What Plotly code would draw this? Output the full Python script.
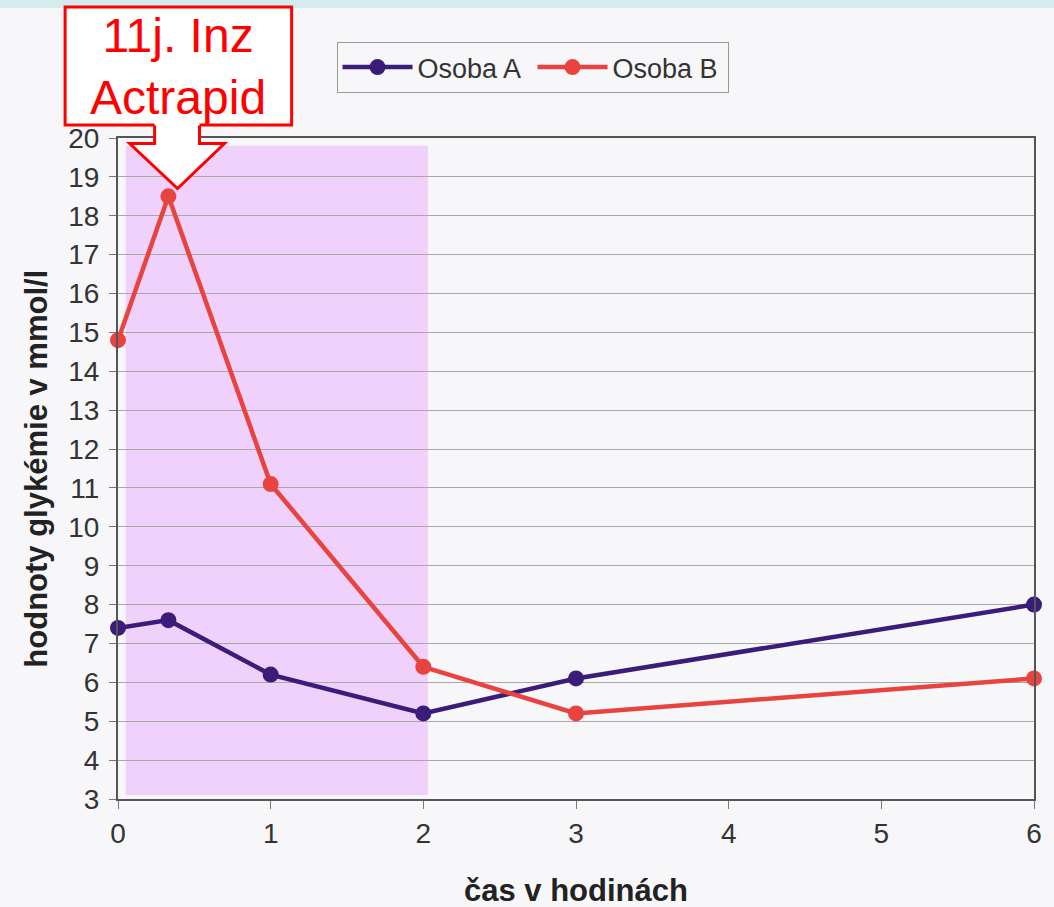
import plotly.graph_objects as go

# ---- data ----
hours = [0, 0.33, 1, 2, 3, 6]
osoba_a = [7.4, 7.6, 6.2, 5.2, 6.1, 8.0]
osoba_b = [14.8, 18.5, 11.1, 6.4, 5.2, 6.1]
x_ticks = [0, 1, 2, 3, 4, 5, 6]
y_ticks = list(range(3, 21))
shade_x = [0.05, 2.03]
shade_y = [3.1, 19.8]

W, H = 1054, 907
L, R, T, B = 118, 18, 138, 108
XR = [0, 6]
YR = [3, 20]
pw, ph = W - L - R, H - T - B

def px_to_paper(px, py):
    return (px - L) / pw, (H - B - py) / ph

FONT = "Arial, Liberation Sans, sans-serif"
col_a = "#3b1c78"
col_b = "#e8433f"

fig = go.Figure()
fig.add_trace(go.Scatter(x=hours, y=osoba_a, mode="lines+markers", name="Osoba A",
                         line=dict(color=col_a, width=4.5), marker=dict(size=16, color=col_a),
                         cliponaxis=False))
fig.add_trace(go.Scatter(x=hours, y=osoba_b, mode="lines+markers", name="Osoba B",
                         line=dict(color=col_b, width=4.5), marker=dict(size=16, color=col_b),
                         cliponaxis=False))

shapes = []
# top teal band
shapes.append(dict(type="rect", xref="paper", yref="paper",
                   x0=px_to_paper(-10, 0)[0], x1=px_to_paper(W + 10, 0)[0],
                   y0=px_to_paper(0, 8)[1], y1=px_to_paper(0, -5)[1],
                   fillcolor="#d3eced", line=dict(width=0), layer="below"))
# shaded insulin-action region
shapes.append(dict(type="rect", xref="x", yref="y", x0=shade_x[0], x1=shade_x[1],
                   y0=shade_y[0], y1=shade_y[1], fillcolor="#f0d1fb",
                   line=dict(width=0), layer="below"))

# callout box
bx0, by1 = px_to_paper(65, 7)
bx1, by0 = px_to_paper(292, 125)
shapes.append(dict(type="rect", xref="paper", yref="paper", x0=bx0, x1=bx1, y0=by0, y1=by1,
                   fillcolor="white", line=dict(color="#ff0000", width=3)))
# arrow pointing at the peak of Osoba B
tip_x = (hours[1] + 0.06 - XR[0]) / (XR[1] - XR[0])
tip_y = (osoba_b[1] + 0.2 - YR[0]) / (YR[1] - YR[0])
sx = 1.0 / pw
sy = 1.0 / ph
pts = [(-23, 63), (-23, 45), (-48, 45), (0, 0), (47, 45), (22, 45), (22, 63)]
poly = [(tip_x + dx * sx, tip_y + dy * sy) for dx, dy in pts]
closed = "M " + " L ".join(f"{x},{y}" for x, y in [(poly[0][0], poly[0][1] + 4 * sy)] + poly + [(poly[-1][0], poly[-1][1] + 4 * sy)]) + " Z"
shapes.append(dict(type="path", xref="paper", yref="paper", path=closed,
                   fillcolor="white", line=dict(width=0)))
opened = "M " + " L ".join(f"{x},{y}" for x, y in poly)
shapes.append(dict(type="path", xref="paper", yref="paper", path=opened,
                   fillcolor="rgba(0,0,0,0)", line=dict(color="#ff0000", width=3)))

ytx, _ = px_to_paper(36, 0)
_, xty = px_to_paper(0, 890)

fig.update_layout(
    width=W, height=H,
    margin=dict(l=L, r=R, t=T, b=B),
    paper_bgcolor="#f7f7f9", plot_bgcolor="rgba(0,0,0,0)",
    font=dict(family=FONT, color="#333333"),
    shapes=shapes,
    showlegend=True,
    legend=dict(orientation="h", x=px_to_paper(337, 0)[0], y=px_to_paper(0, 42)[1],
                xanchor="left", yanchor="top", bgcolor="rgba(0,0,0,0)",
                bordercolor="#999999", borderwidth=1,
                font=dict(size=27, family=FONT, color="#333333"),
                itemwidth=70, entrywidth=110, tracegroupgap=0),
    annotations=[
        dict(xref="paper", yref="paper", x=(bx0 + bx1) / 2, y=(by0 + by1) / 2,
             text="11j. Inz<br>Actrapid", showarrow=False,
             font=dict(size=48, color="#ff0000", family=FONT),
             xanchor="center", yanchor="middle"),
        dict(xref="paper", yref="paper", x=ytx, y=0.5, text="<b>hodnoty glykémie v mmol/l</b>",
             textangle=-90, showarrow=False, xanchor="center", yanchor="middle",
             font=dict(size=31, color="#222222", family=FONT)),
        dict(xref="paper", yref="paper", x=0.5, y=xty, text="<b>čas v hodinách</b>",
             showarrow=False, xanchor="center", yanchor="middle",
             font=dict(size=31, color="#222222", family=FONT)),
    ],
)

fig.update_xaxes(range=XR, tickvals=x_ticks, ticktext=[str(v) for v in x_ticks],
                 showgrid=False, zeroline=False,
                 showline=True, linecolor="#555555", linewidth=2, mirror=True,
                 ticks="outside", ticklen=8, tickcolor="#777777",
                 ticklabelstandoff=0,
                 tickfont=dict(size=28, color="#333333"))
fig.update_yaxes(range=YR, tickvals=y_ticks, ticktext=[str(v) for v in y_ticks],
                 showgrid=True, gridcolor="#a8a8a8", gridwidth=1, zeroline=False,
                 showline=True, linecolor="#555555", linewidth=2, mirror=True,
                 ticks="outside", ticklen=7, tickcolor="#777777",
                 ticklabelstandoff=4,
                 tickfont=dict(size=28, color="#333333"))

fig.write_html("out.html", config={"displayModeBar": False},
               post_script="document.body.style.margin='0px';")
